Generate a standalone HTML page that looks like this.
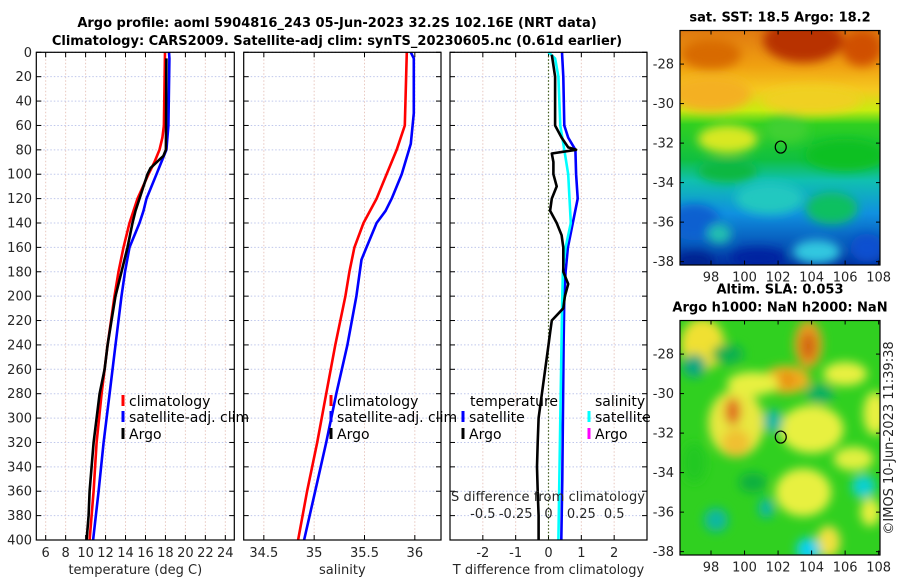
<!DOCTYPE html>
<html><head><meta charset="utf-8">
<style>
html,body{margin:0;padding:0;background:#fff;}
svg{display:block;font-family:"DejaVu Sans","Liberation Sans",sans-serif;}
.tk{font-size:13px;fill:#262626;}
.tt{font-size:13px;font-weight:bold;fill:#000;}
.lg{font-size:14px;fill:#000;}
</style></head>
<body>
<svg id="fig" width="900" height="580" viewBox="0 0 900 580" xmlns="http://www.w3.org/2000/svg">
<defs>
<filter id="blur6" x="-50%" y="-50%" width="200%" height="200%"><feGaussianBlur stdDeviation="5"/></filter>
<clipPath id="clipTop"><rect x="680" y="30.5" width="200" height="234.5"/></clipPath>
<clipPath id="clipBot"><rect x="680" y="320.5" width="200" height="234.5"/></clipPath>
<linearGradient id="sstGrad" x1="0" y1="0" x2="0" y2="1">
<stop offset="0" stop-color="#e07a10"/>
<stop offset="0.15" stop-color="#f0a010"/>
<stop offset="0.25" stop-color="#f5c820"/>
<stop offset="0.34" stop-color="#c8ec10"/>
<stop offset="0.40" stop-color="#30d020"/>
<stop offset="0.55" stop-color="#10c040"/>
<stop offset="0.64" stop-color="#10c0b0"/>
<stop offset="0.78" stop-color="#1090e0"/>
<stop offset="1" stop-color="#0030a0"/>
</linearGradient>
</defs>
<text class="tt" x="337" y="27" text-anchor="middle">Argo profile: aoml 5904816_243 05-Jun-2023 32.2S 102.16E (NRT data)</text>
<text class="tt" x="337" y="45" text-anchor="middle">Climatology: CARS2009. Satellite-adj clim: synTS_20230605.nc (0.61d earlier)</text>
<g id="panels"></g>
<g id="maps"></g>
</svg>
<script>
// ---- data ----
const depthTicks=[0,20,40,60,80,100,120,140,160,180,200,220,240,260,280,300,320,340,360,380,400];
const tempTicks=[6,8,10,12,14,16,18,20,22,24];
const salTicks=[34.5,35,35.5,36];
const salTickLabels=["34.5","35","35.5","36"];
const tdiffTicks=[-2,-1,0,1,2];
const sdiffTicks=[-0.5,-0.25,0,0.25,0.5];
const sdiffTickLabels=["-0.5","-0.25","0","0.25","0.5"];

const climTdepth=[0,60,70,80,90,100,120,140,160,180,200,240,280,320,360,400];
const climT=[17.96,17.85,17.7,17.4,16.9,16.3,15.2,14.4,13.8,13.3,12.9,12.2,11.6,11.1,10.8,10.4];
const satTdepth=[0,5,60,80,90,100,120,130,140,160,180,200,240,280,320,360,400];
const satT=[18.36,18.4,18.3,18.1,17.6,17.1,16.1,15.8,15.4,14.4,13.95,13.6,13.0,12.4,11.8,11.3,10.75];
const argoTdepth=[5,80,85,88,95,100,110,120,130,140,160,180,200,220,240,260,280,300,320,340,360,380,400];
const argoT=[18.1,18.05,17.8,17.4,16.5,16.2,15.8,15.4,15.0,14.7,14.2,13.6,13.0,12.6,12.2,11.9,11.4,11.1,10.8,10.6,10.4,10.3,10.1];

const climSdepth=[0,60,80,100,120,140,160,180,200,240,280,320,360,400];
const climS=[35.92,35.90,35.82,35.72,35.62,35.49,35.40,35.35,35.31,35.21,35.12,35.03,34.93,34.84];
const satSdepth=[0,5,50,75,100,120,130,140,160,170,200,240,280,320,360,400];
const satS=[35.96,35.99,35.99,35.96,35.87,35.77,35.71,35.62,35.52,35.47,35.42,35.33,35.22,35.12,35.01,34.90];

const dTsatDepth=[0,20,60,70,80,100,120,140,160,180,200,240,300,350,400];
const dTsat=[0.41,0.45,0.48,0.6,0.82,0.84,0.89,0.74,0.59,0.52,0.48,0.46,0.44,0.42,0.39];
const dTargoDepth=[2,20,60,70,78,80,83,90,100,110,120,130,140,150,160,180,190,200,210,220,230,240,260,280,300,320,340,360,380,400];
const dTargo=[0.1,0.2,0.2,0.4,0.6,0.84,0.1,0.15,0.15,0.25,0.1,0.05,0.25,0.4,0.45,0.45,0.6,0.5,0.45,0.1,0.05,0.0,-0.1,-0.2,-0.3,-0.33,-0.35,-0.33,-0.3,-0.3];
const dSsatDepth=[0,5,20,60,80,100,120,140,160,180,200,300,400];
const dSsat=[0.0,0.05,0.075,0.09,0.12,0.15,0.16,0.17,0.13,0.11,0.105,0.09,0.075];

// ---- helpers ----
const NS="http://www.w3.org/2000/svg";
const P=document.getElementById('panels');
function mk(tag,attrs,parent){const e=document.createElementNS(NS,tag);for(const k in attrs)e.setAttribute(k,attrs[k]);(parent||P).appendChild(e);return e;}
const yTop=52.3,yBot=540;
function yD(d){return yTop+(yBot-yTop)*d/400;}
function lin(d0,d1,p0,p1){return v=>p0+(v-d0)*(p1-p0)/(d1-d0);}

const panels=[
 {name:'temperature-panel',x0:36.3,x1:234.3,sx:lin(5.06,24.9,36.3,234.3),ticks:tempTicks,labels:tempTicks.map(String),xlabel:'temperature (deg C)',ylabels:true},
 {name:'salinity-panel',x0:243.7,x1:441,sx:lin(34.30,36.26,243.7,441),ticks:salTicks,labels:salTickLabels,xlabel:'salinity',ylabels:false},
 {name:'difference-panel',x0:450,x1:647,sx:lin(-3,3,450,647),ticks:tdiffTicks,labels:tdiffTicks.map(String),xlabel:'T difference from climatology',ylabels:false}
];
panels.forEach(p=>{
 const g=mk('g',{});
 
 
 p.ticks.forEach(t=>{const x=p.sx(t);const l=mk('line',{x1:x,x2:x,y1:yTop,y2:yBot,stroke:'#e8c8c0','stroke-width':1,'stroke-dasharray':'1.5,2'},g);
   });
 depthTicks.forEach(d=>{const y=yD(d);const l=mk('line',{x1:p.x0,x2:p.x1,y1:y,y2:y,stroke:'#c0c8ec','stroke-width':1,'stroke-dasharray':'1.5,2'},g);
   
   mk('line',{x1:p.x0,x2:p.x0+5,y1:y,y2:y,stroke:'#000'},g);mk('line',{x1:p.x1,x2:p.x1-5,y1:y,y2:y,stroke:'#000'},g);
   if(p.ylabels){const t=mk('text',{x:32,y:y+4.5,'text-anchor':'end',class:'tk'},g);t.textContent=d;
     }
 });
 p.ticks.forEach((t,i)=>{const x=p.sx(t);mk('line',{x1:x,x2:x,y1:yBot,y2:yBot-5,stroke:'#000'},g);mk('line',{x1:x,x2:x,y1:yTop,y2:yTop+5,stroke:'#000'},g);
   const tx=mk('text',{x:x,y:557,'text-anchor':'middle',class:'tk'},g);tx.textContent=p.labels[i];
   });
 const xl=mk('text',{x:(p.x0+p.x1)/2,y:574,'text-anchor':'middle',class:'tk','font-size':'13.5'},g);xl.textContent=p.xlabel;
 
 p.g=g;
});
function line(g,sx,xs,ds,color,name,w){
 const pts=xs.map((v,i)=>sx(v).toFixed(1)+','+yD(ds[i]).toFixed(1)).join(' ');
 const l=mk('polyline',{points:pts,fill:'none',stroke:color,'stroke-width':w||2.6,'stroke-linejoin':'round'},g);
 
}
const p0=panels[0],p1=panels[1],p2=panels[2];
line(p0.g,p0.sx,climT,climTdepth,'#ff0000','climatology-temp-line');
line(p0.g,p0.sx,satT,satTdepth,'#0000ff','satellite-temp-line');
line(p0.g,p0.sx,argoT,argoTdepth,'#000000','argo-temp-line');
line(p1.g,p1.sx,climS,climSdepth,'#ff0000','climatology-salinity-line');
line(p1.g,p1.sx,satS,satSdepth,'#0000ff','satellite-salinity-line');
const z=mk('line',{x1:p2.sx(0),x2:p2.sx(0),y1:yTop,y2:yBot,stroke:'#406020','stroke-width':1.2,'stroke-dasharray':'1.5,2'},p2.g);

const sS=v=>p2.sx(v*4);
line(p2.g,p2.sx,dTsat,dTsatDepth,'#0000ff','satellite-temp-diff-line');
line(p2.g,sS,dSsat,dSsatDepth,'#00ffff','satellite-salinity-diff-line');
line(p2.g,p2.sx,dTargo,dTargoDepth,'#000000','argo-temp-diff-line');
const st=mk('text',{x:548,y:501,'text-anchor':'middle',class:'tk','font-size':'14','textLength':'194'},p2.g);st.textContent='S difference from climatology';

sdiffTicks.forEach((t,i)=>{const tx=mk('text',{x:sS(t),y:518,'text-anchor':'middle',class:'tk','font-size':'14'},p2.g);tx.textContent=sdiffTickLabels[i];
 });
panels.forEach(p=>{const r=mk('rect',{x:p.x0,y:yTop,width:p.x1-p.x0,height:yBot-yTop,fill:'none',stroke:'#000','stroke-width':1.2},p.g);
 });
function leg(g,x,y,color,label,name){
 mk('line',{x1:x,x2:x,y1:y-11,y2:y,stroke:color,'stroke-width':3},g);
 const t=mk('text',{x:x+6,y:y,class:'lg'},g);t.textContent=label;
 
}
leg(p0.g,123,406,'#ff0000','climatology','legend-climatology');
leg(p0.g,123,422,'#0000ff','satellite-adj. clim','legend-satellite-adj');
leg(p0.g,123,439,'#000000','Argo','legend-argo');
leg(p1.g,331,406,'#ff0000','climatology','legend-climatology');
leg(p1.g,331,422,'#0000ff','satellite-adj. clim','legend-satellite-adj');
leg(p1.g,331,439,'#000000','Argo','legend-argo');
let t1=mk('text',{x:470,y:406,class:'lg'},p2.g);t1.textContent='temperature';
leg(p2.g,463,422,'#0000ff','satellite','legend-temp-satellite');
leg(p2.g,463,439,'#000000','Argo','legend-temp-argo');
let t2=mk('text',{x:595,y:406,class:'lg'},p2.g);t2.textContent='salinity';
leg(p2.g,589,422,'#00ffff','satellite','legend-sal-satellite');
leg(p2.g,589,439,'#ff00ff','Argo','legend-sal-argo');

// ---- maps ----
const M=document.getElementById('maps');
const lonTicks=[98,100,102,104,106,108];
const latTicks=[-28,-30,-32,-34,-36,-38];
const mx=lin(96.15,108.08,680,880);
function map(name,y0,clip,title,blobs,base){
 const g=mk('g',{},M);
 const my=lin(-26.3,-38.17,y0,y0+234.5);
 const cg=mk('g',{'clip-path':'url(#'+clip+')'},g);
 mk('rect',{x:680,y:y0,width:200,height:234.5,fill:base},cg);
 const bg=mk('g',{filter:'url(#blur6)'},cg);
 blobs.forEach(b=>mk('ellipse',{cx:mx(b[0]),cy:my(b[1]),rx:b[2],ry:b[3],fill:b[4]},bg));
 const c=mk('ellipse',{cx:mx(102.16),cy:my(-32.2),rx:5.5,ry:6,fill:'none',stroke:'#000','stroke-width':1.2},g);
 
 mk('rect',{x:680,y:y0,width:200,height:234.5,fill:'none',stroke:'#000','stroke-width':1.2},g);
 lonTicks.forEach(l=>{const x=mx(l);mk('line',{x1:x,x2:x,y1:y0+234.5,y2:y0+230,stroke:'#000'},g);mk('line',{x1:x,x2:x,y1:y0,y2:y0+4,stroke:'#000'},g);
  const t=mk('text',{x:x,y:y0+251,'text-anchor':'middle',class:'tk'},g);t.textContent=l;});
 latTicks.forEach(l=>{const y=my(l);mk('line',{x1:880,x2:876,y1:y,y2:y,stroke:'#000'},g);mk('line',{x1:680,x2:684,y1:y,y2:y,stroke:'#000'},g);
  const t=mk('text',{x:674,y:y+4.5,'text-anchor':'end',class:'tk'},g);t.textContent=l;});
 title.forEach((s,i)=>{const t=mk('text',{x:780,y:y0-(title.length-1-i)*18-9,'text-anchor':'middle',class:'tt'},g);t.textContent=s;});
}
const sstBlobs=[
 [103.5,-26.8,40,22,'#b83000'],[107,-27.2,20,18,'#d05000'],[98,-27.5,30,15,'#d86a00'],
 [98,-29.5,40,18,'#f4b020'],[104,-29.8,50,14,'#f0d020'],[99,-31.8,30,14,'#d8e820'],
 [102.5,-31.3,22,14,'#40d030'],[106,-32.6,40,16,'#10c020'],[99,-33.4,30,12,'#10b840'],
 [101.5,-34.8,34,16,'#20c8c0'],[105.2,-35.3,26,16,'#10c060'],[97,-36,26,18,'#1060d0'],
 [98.5,-36.6,12,10,'#20c0b0'],[100.8,-37.8,28,10,'#0020a0'],[104.3,-37.5,24,12,'#30c8e0'],
 [107.3,-37.3,16,14,'#1050d0'],[97,-38,20,10,'#002090']
];
const slaBlobs=[
 [97.5,-27.5,22,26,'#f0e030'],[103.8,-27.5,14,24,'#e8a020'],[103.8,-27.6,7,14,'#d06010'],
 [102.5,-29.3,24,14,'#f0b020'],[102.5,-29.3,10,7,'#e89010'],
 [99.5,-31.5,28,34,'#e8e840'],[99.3,-30.9,8,14,'#e07020'],[99.5,-32.5,14,14,'#f0c030'],
 [100.5,-29.5,26,12,'#e8f040'],
 [104,-31.8,32,24,'#e8f040'],[106,-29,22,12,'#e8f040'],[107.8,-31,12,22,'#e8f040'],
 [103.5,-35,28,24,'#e8f040'],[106.5,-33.3,20,12,'#e0f040'],[105,-37.5,12,16,'#f0e040'],
 [107.5,-36,10,14,'#e8f040'],
 [97,-28.6,12,12,'#10a880'],[99,-28,16,10,'#10b050'],[101.7,-31.4,10,12,'#10b8a0'],[104.5,-30,14,10,'#10b060'],
 [107.1,-34.7,12,12,'#10d0d0'],[98.3,-36.4,12,12,'#10b8a0'],[101.3,-35.8,8,10,'#10b8a0'],[103.8,-37.9,12,12,'#10d0f0'],
 [97,-33.5,12,20,'#20c820'],[100.5,-34.5,14,10,'#10b040']
];
map('sst-map',30.5,'clipTop',['sat. SST: 18.5 Argo: 18.2'],sstBlobs,'url(#sstGrad)');
map('sla-map',320.5,'clipBot',['Altim. SLA: 0.053','Argo h1000: NaN h2000: NaN'],slaBlobs,'#30d020');
const cr=mk('text',{x:0,y:0,class:'tk',transform:'translate(893,438) rotate(-90)','text-anchor':'middle'},M);
cr.textContent='©IMOS 10-Jun-2023 11:39:38';


</script>
</body></html>
